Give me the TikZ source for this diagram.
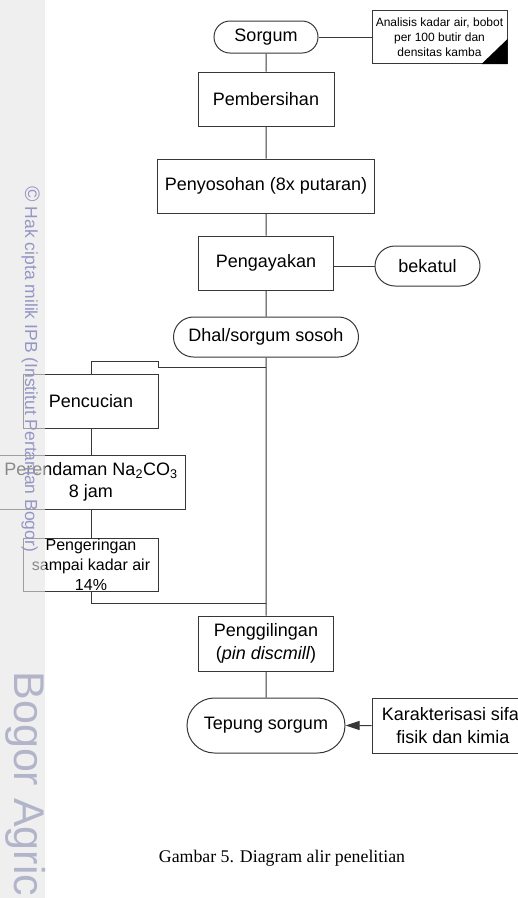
\documentclass[tikz,border=0pt]{standalone}
\usepackage{fontspec}
\setmainfont{Liberation Sans}
\newfontfamily\serifcap{Liberation Serif}
\definecolor{edgegray}{RGB}{55,55,55}
\definecolor{markblue}{RGB}{150,150,196}
\definecolor{markgray}{RGB}{178,181,202}
\usetikzlibrary{positioning, arrows.meta, shapes.misc}

\begin{document}
\begin{tikzpicture}[
    x=1pt, y=-1pt,
    procbox/.style={draw=edgegray, line width=1pt, inner sep=2pt,
      minimum width=135pt, minimum height=54pt, align=center,
      font=\fontsize{18}{22.5}\selectfont},
    pill/.style={procbox, rounded rectangle, minimum height=40pt},
    notebox/.style={procbox, minimum height=53pt,
      font=\fontsize{12}{15}\selectfont},
    link/.style={draw=edgegray, line width=1pt},
    sidemark/.style={text=markblue, rotate=-90, anchor=base west},
  ]
    \useasboundingbox (0,0) rectangle (518,898);

    % main column
    \node[pill, minimum width=108pt, minimum height=32pt] (sorgum) at (266,37) {Sorgum};
    \node[procbox, minimum width=136pt, below=18pt of sorgum] (pembersihan) {Pembersihan};
    \node[procbox, minimum width=217pt, below=32pt of pembersihan] (penyosohan) {Penyosohan (8x putaran)};
    \node[procbox, below=22pt of penyosohan] (pengayakan) {Pengayakan};
    \node[pill, minimum width=189pt, below=26pt of pengayakan] (dhal) {Dhal/sorgum sosoh};
    \node[procbox, minimum height=55pt] (penggilingan) at (266,643.5) {Penggilingan\\(\textit{pin discmill})};
    \node[pill, minimum width=162pt, minimum height=55pt, below=26pt of penggilingan] (tepung) {Tepung sorgum};

    % side nodes
    \node[notebox, right=53pt of sorgum] (analisis) {Analisis kadar air, bobot\\per 100 butir dan\\densitas kamba};
    \fill[black] (analisis.south east) -- ++(0,-25) -- ++(-26,25) -- cycle;
    \node[pill, minimum width=109pt] (bekatul) at (427.5,266) {bekatul};
    \node[procbox, minimum width=162pt, minimum height=55pt, right=26pt of tepung] (karakterisasi) {Karakterisasi sifat\\fisik dan kimia};

    % washing branch
    \node[procbox] (pencucian) at (91,401) {Pencucian};
    \node[procbox, minimum width=188pt, below=26pt of pencucian] (perendaman) {Perendaman Na\textsubscript{2}CO\textsubscript{3}\\8 jam};
    \node[procbox, minimum height=53pt, below=28pt of perendaman] (pengeringan) {};
    \node[align=center, font=\fontsize{16}{20}\selectfont] (pengeringan-text) at (pengeringan) {Pengeringan\\sampai kadar air\\14\%};

    \coordinate (branch) at (266,367);
    \coordinate (jog) at (158,361);
    \coordinate (merge) at (266,603);

    % connectors
    \draw[link] (sorgum) -- (pembersihan) -- (penyosohan) -- (pengayakan) -- (dhal);
    \draw[link] (dhal) -- (penggilingan) -- (tepung);
    \draw[link] (sorgum.east) -- (sorgum.east -| analisis.west);
    \draw[link] (pengayakan.east |- bekatul.west) -- (bekatul.west);
    \draw[link] (branch) -| (jog) -| (pencucian.north);
    \draw[link] (pencucian) -- (perendaman) -- (pengeringan);
    \draw[link] (pengeringan.south) |- (merge);
    \draw[link, -{Triangle[length=14pt, width=9pt]}] (karakterisasi) -- (tepung);

    \node[anchor=base, font=\serifcap\fontsize{17.8}{20}\selectfont] (caption) at (282,862) {Gambar 5. Diagram alir penelitian};

    % page margin strip
    \fill[black!10, opacity=0.6] (0,0) rectangle (45,898);
    \node[sidemark, font=\fontsize{17.5}{17.5}\selectfont] (hakcipta) at (25,183) {{\fontsize{21}{21}\selectfont ©} Hak cipta milik IPB (Institut Pertanian Bogor)};
    \node[sidemark, text=markgray, font=\fontsize{43}{43}\selectfont] (bogor) at (15,668) {Bogor Agricultural University};
  \end{tikzpicture}
\end{document}
